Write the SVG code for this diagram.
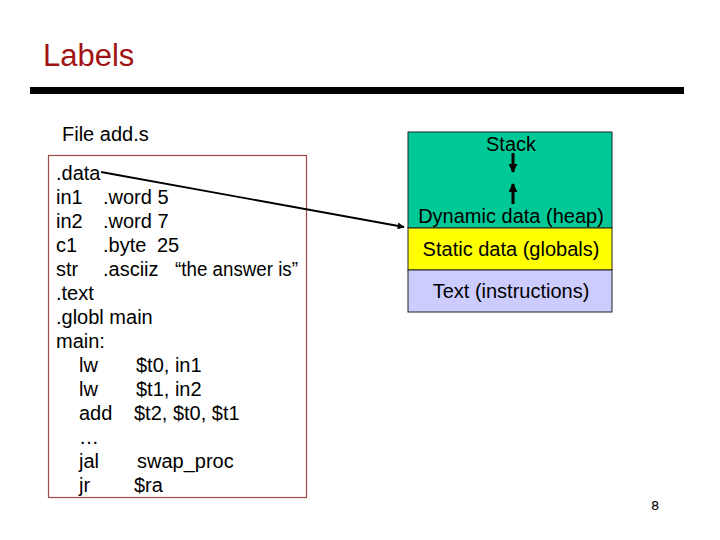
<svg xmlns="http://www.w3.org/2000/svg" width="720" height="540" viewBox="0 0 720 540">
<style>
text{font-family:"Liberation Sans",Arial,sans-serif;fill:#000}
.code{font-size:20px}
.seg{font-size:20px;text-anchor:middle}
</style>
<defs>
<marker id="ah" viewBox="0 0 10 10" refX="9" refY="5" markerWidth="7" markerHeight="7" orient="auto" markerUnits="userSpaceOnUse">
<path d="M0,0 L10,5 L0,10 z" fill="#000"/>
</marker>
<marker id="bh" viewBox="0 0 10 10" refX="9" refY="5" markerWidth="9" markerHeight="9" orient="auto" markerUnits="userSpaceOnUse">
<path d="M0,0 L10,5 L0,10 z" fill="#000"/>
</marker>
</defs>
<rect width="720" height="540" fill="#fff"/>
<g id="title">
<text x="43" y="66" font-size="31" style="fill:#A01414">Labels</text>
<rect x="30" y="87" width="654" height="7" fill="#000"/>
</g>
<g id="file">
<text x="62" y="141" font-size="20">File add.s</text>
<rect x="48.5" y="155.5" width="258" height="342" fill="#fff" stroke="#A04848" stroke-width="1.2"/>
<g class="code">
<text x="56" y="180">.data</text>
<text x="56" y="204">in1</text><text x="103" y="204">.word 5</text>
<text x="56" y="228">in2</text><text x="103" y="228">.word 7</text>
<text x="56" y="252">c1</text><text x="103" y="252">.byte</text><text x="157" y="252">25</text>
<text x="56" y="276">str</text><text x="103" y="276">.asciiz</text><text x="175" y="276" textLength="123" lengthAdjust="spacingAndGlyphs">“the answer is”</text>
<text x="56" y="300">.text</text>
<text x="56" y="324">.globl main</text>
<text x="56" y="348">main:</text>
<text x="79" y="372">lw</text><text x="136" y="372">$t0, in1</text>
<text x="79" y="396">lw</text><text x="136" y="396">$t1, in2</text>
<text x="79" y="420">add</text><text x="134" y="420">$t2, $t0, $t1</text>
<text x="79" y="444">…</text>
<text x="79" y="468">jal</text><text x="137" y="468">swap_proc</text>
<text x="79" y="492">jr</text><text x="134" y="492">$ra</text>
</g>
</g>
<g id="memory">
<rect x="408" y="132" width="204" height="96" fill="#00C896" stroke="#222" stroke-width="1"/>
<rect x="408" y="228" width="204" height="42" fill="#FFFF00" stroke="#222" stroke-width="1"/>
<rect x="408" y="270" width="204" height="42" fill="#CCCCFF" stroke="#222" stroke-width="1"/>
<text class="seg" x="511" y="151">Stack</text>
<text class="seg" x="511" y="223">Dynamic data (heap)</text>
<text class="seg" x="511" y="256">Static data (globals)</text>
<text class="seg" x="511" y="298">Text (instructions)</text>
</g>
<g id="connectors" stroke="#000" fill="none">
<line x1="513" y1="153" x2="513" y2="172" stroke-width="3" marker-end="url(#bh)"/>
<line x1="513" y1="204" x2="513" y2="184" stroke-width="3" marker-end="url(#bh)"/>
<line x1="101" y1="172" x2="404" y2="227" stroke-width="1.8" marker-end="url(#ah)"/>
</g>
<text x="651" y="510" font-size="13" style="font-family:'DejaVu Sans',sans-serif">8</text>
</svg>
